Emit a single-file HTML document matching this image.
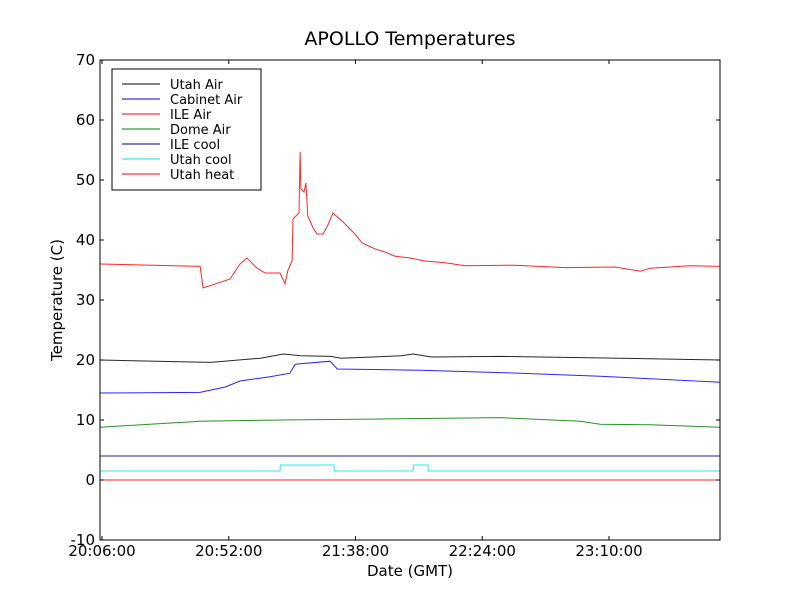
<!DOCTYPE html>
<html><head><meta charset="utf-8"><style>
body{margin:0;background:#fff;}
svg{display:block;font-family:"DejaVu Sans","Liberation Sans",sans-serif;}
</style></head><body>
<svg id="c" width="800" height="600" xmlns="http://www.w3.org/2000/svg">
<rect width="800" height="600" fill="#fff"/>
<text x="410" y="45" text-anchor="middle" font-size="19">APOLLO Temperatures</text>
<g id="plot"></g>
<rect x="100" y="60" width="620" height="480" fill="none" stroke="#000" stroke-width="1"/>
<g id="axes"></g>
<text x="410" y="576" text-anchor="middle" font-size="15">Date (GMT)</text>
<text transform="translate(62,300) rotate(-90)" text-anchor="middle" font-size="15">Temperature (C)</text>
<g id="legend"></g>
</svg>
<script>
const seriesNames=["Utah Air","Cabinet Air","ILE Air","Dome Air","ILE cool","Utah cool","Utah heat"];
const seriesColors=["#000000","#0000ff","#ff0000","#008000","#000080","#00e5e5","#ff0000"];
const yTicks=[-10,0,10,20,30,40,50,60,70];
const xTickMinutes=[0,46,92,138,184];
const xTickLabels=["20:06:00","20:52:00","21:38:00","22:24:00","23:10:00"];
// minutes after 20:06
const utahAirT=[-0.7,39.4,57.5,65.8,72.2,83.1,86.8,108.6,112.9,119.5,144.9,188.4,224.3];
const utahAirV=[20,19.6,20.3,21,20.7,20.6,20.3,20.7,21,20.5,20.6,20.3,20.0];
const cabinetT=[-0.7,35.6,44.7,50.1,61,68.2,70.1,82.8,85.4,115.4,151.7,180.8,224.3];
const cabinetV=[14.5,14.6,15.5,16.5,17.2,17.8,19.3,19.8,18.5,18.3,17.8,17.3,16.3];
const ileAirT=[-0.7,35.6,36.7,46.5,50.1,52.6,56.3,59.2,64.6,66.4,67.5,69.0,69.3,71.5,71.9,72.2,73.3,74.0,74.7,76.6,78.0,80.2,82.0,83.8,87.5,91.8,94.4,99.1,102.7,106.4,111.8,117.2,124.5,131.8,149.9,168.1,186.2,195.3,198.9,213.4,224.3];
const ileAirV=[36,35.6,32,33.5,36,37,35.3,34.5,34.5,32.7,35,36.5,43.5,44.5,54.7,48.5,48,49.5,44,42,41,41,42.5,44.5,43,41,39.5,38.5,38,37.3,37,36.5,36.2,35.7,35.8,35.4,35.5,34.8,35.3,35.7,35.6];
const domeT=[-0.7,17.4,35.6,64.6,108.2,144.5,173.5,180.8,199,224.3];
const domeV=[8.8,9.3,9.8,10,10.2,10.4,9.8,9.3,9.2,8.8];
const ileCoolT=[-0.7,224.3];
const ileCoolV=[4,4];
const utahCoolT=[-0.7,64.6,64.7,84.2,84.3,112.9,113.0,118.3,118.4,224.3];
const utahCoolV=[1.5,1.5,2.5,2.5,1.5,1.5,2.5,2.5,1.5,1.5];
const utahHeatT=[-0.7,224.3];
const utahHeatV=[0,0];
const allT=[utahAirT,cabinetT,ileAirT,domeT,ileCoolT,utahCoolT,utahHeatT];
const allV=[utahAirV,cabinetV,ileAirV,domeV,ileCoolV,utahCoolV,utahHeatV];

const NS="http://www.w3.org/2000/svg";
const X=m=>102+m*(126.75/46);
const Y=v=>480-v*6;
function mk(tag,attrs,parent){const e=document.createElementNS(NS,tag);for(const k in attrs)e.setAttribute(k,attrs[k]);parent.appendChild(e);return e;}
const plot=document.getElementById('plot'),axes=document.getElementById('axes'),leg=document.getElementById('legend');
const drawOrder=[6,5,4,3,2,1,0];
drawOrder.forEach(i=>{
  const d=allT[i].map((t,j)=>(j?'L':'M')+X(t).toFixed(1)+' '+Y(allV[i][j]).toFixed(1)).join(' ');
  const p=mk('path',{d:d,fill:'none',stroke:seriesColors[i],'stroke-width':1,'stroke-opacity':0.85},plot);
  
  
});
yTicks.forEach(v=>{
  const y=Y(v);
  mk('line',{x1:100,x2:104,y1:y,y2:y,stroke:'#000'},axes);
  mk('line',{x1:716,x2:720,y1:y,y2:y,stroke:'#000'},axes);
  const t=mk('text',{x:95,y:y+5,'text-anchor':'end','font-size':15},axes);
  t.textContent=v;
  
  
});
xTickMinutes.forEach((m,i)=>{
  const x=X(m);
  mk('line',{x1:x,x2:x,y1:540,y2:536,stroke:'#000'},axes);
  mk('line',{x1:x,x2:x,y1:60,y2:64,stroke:'#000'},axes);
  const t=mk('text',{x:x,y:556,'text-anchor':'middle','font-size':15},axes);
  t.textContent=xTickLabels[i];
  
  
});
const box=mk('rect',{x:112,y:69,width:149,height:121,fill:'#fff',stroke:'#000'},leg);


seriesNames.forEach((n,i)=>{
  const y=84+i*15;
  const g=mk('g',{},leg);
  
  
  mk('line',{x1:122,x2:160,y1:y,y2:y,stroke:seriesColors[i]},g);
  const t=mk('text',{x:170,y:y+5,'font-size':13},g);
  t.textContent=n;
});
</script>
</body></html>
